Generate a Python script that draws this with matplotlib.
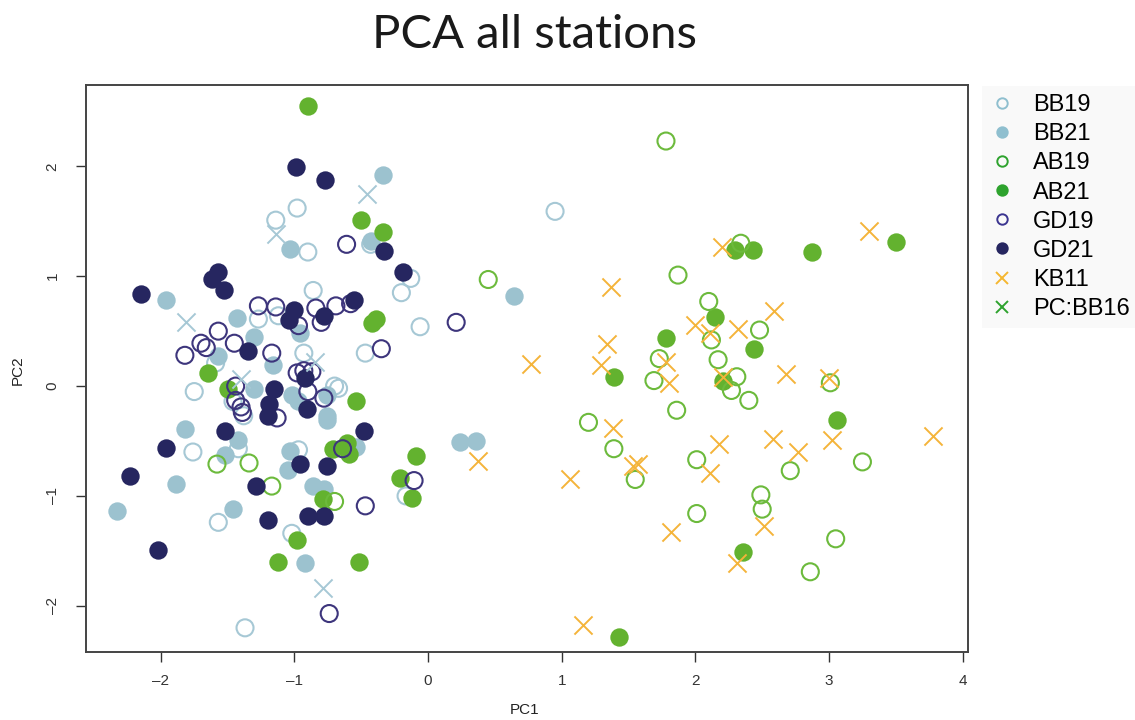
import matplotlib
matplotlib.use("Agg")
import matplotlib.pyplot as plt
from matplotlib.lines import Line2D

# PCA scores, one pair of lists per station/year
bb19_x = [0.95, -0.98, -1.14, -0.90, -0.43, -0.13, -0.20, -0.06, -0.86, -1.27, -1.12, -1.59, -0.93,
          -0.47, -1.75, -1.46, -1.38, -0.70, -0.67, -1.42, -1.76, -0.97, -0.165, -1.57, -1.02, -1.37]
bb19_y = [1.59, 1.62, 1.51, 1.22, 1.29, 0.98, 0.85, 0.54, 0.87, 0.61, 0.64, 0.21, 0.30,
          0.30, -0.05, -0.14, -0.27, 0.00, -0.02, -0.57, -0.60, -0.58, -1.00, -1.24, -1.34, -2.20]

bb21_x = [0.64, 0.24, 0.36, -0.34, -1.03, -0.43, -1.96, -1.43, -0.96, -1.30, -1.57, -1.16, -1.30, -1.02, -0.97,
          -0.76, -0.76, -0.755, -1.82, -1.42, -1.52, -1.03, -1.05, -0.54, -1.89, -0.86, -0.78, -2.33, -1.46, -0.92]
bb21_y = [0.82, -0.51, -0.50, 1.92, 1.25, 1.32, 0.78, 0.62, 0.48, 0.45, 0.27, 0.19, -0.03, -0.08, -0.14,
          -0.08, -0.27, -0.31, -0.39, -0.49, -0.63, -0.59, -0.76, -0.55, -0.89, -0.91, -0.94, -1.14, -1.12, -1.61]

ab19_x = [1.78, 0.45, 1.87, 2.34, 2.10, 2.12, 2.48, 1.73, 2.17, 1.69, 2.31, 2.27, 2.40, 3.01, 1.86, 1.20,
          1.39, 3.25, 2.01, 1.55, 2.71, 2.49, 2.50, 2.01, 3.05, 2.86, -1.58, -1.34, -1.17, -0.70]
ab19_y = [2.23, 0.97, 1.01, 1.30, 0.77, 0.42, 0.51, 0.25, 0.24, 0.05, 0.085, -0.04, -0.13, 0.03, -0.22, -0.33,
          -0.57, -0.69, -0.67, -0.85, -0.77, -0.99, -1.12, -1.16, -1.39, -1.69, -0.71, -0.70, -0.91, -1.05]

ab21_x = [3.50, 2.87, 2.30, 2.43, 2.15, 1.78, 2.44, 1.39, 2.21, 3.06, 2.36, 1.43,
          -0.90, -0.50, -0.34, -0.42, -0.39, -1.65, -1.50, -0.54, -0.71, -0.61, -0.59, -0.09,
          -0.21, -0.12, -0.79, -0.98, -1.12, -0.52]
ab21_y = [1.31, 1.22, 1.24, 1.24, 0.63, 0.44, 0.34, 0.08, 0.05, -0.31, -1.51, -2.28,
          2.55, 1.51, 1.40, 0.57, 0.61, 0.12, -0.03, -0.14, -0.57, -0.52, -0.62, -0.64,
          -0.84, -1.02, -1.03, -1.40, -1.60, -1.60]

gd19_x = [0.21, -0.61, -1.27, -1.14, -0.97, -0.84, -0.80, -0.69, -0.58, -1.57, -1.70, -1.66, -1.82, -1.45, -1.17,
          -0.35, -0.98, -0.93, -0.87, -1.44, -1.44, -1.40, -1.39, -1.13, -0.90, -0.78, -0.64, -0.105, -0.47, -0.74]
gd19_y = [0.58, 1.29, 0.73, 0.72, 0.55, 0.71, 0.58, 0.73, 0.75, 0.50, 0.39, 0.35, 0.28, 0.39, 0.30,
          0.34, 0.12, 0.14, 0.13, 0.00, -0.13, -0.19, -0.24, -0.29, -0.05, -0.11, -0.57, -0.86, -1.09, -2.07]

gd21_x = [-0.99, -0.77, -0.33, -0.19, -1.57, -1.62, -1.53, -2.15, -1.00, -1.04, -0.78, -0.555, -1.35, -0.92, -1.15,
          -1.19, -1.20, -0.91, -1.52, -1.96, -0.96, -0.755, -0.48, -2.23, -1.29, -1.20, -0.90, -0.78, -2.02]
gd21_y = [1.99, 1.88, 1.23, 1.04, 1.04, 0.97, 0.87, 0.84, 0.69, 0.60, 0.64, 0.78, 0.32, 0.07, -0.03,
          -0.16, -0.27, -0.21, -0.41, -0.56, -0.71, -0.73, -0.41, -0.82, -0.91, -1.22, -1.18, -1.18, -1.49]

kb11_x = [3.30, 2.20, 1.37, 2.59, 2.00, 2.11, 2.32, 1.34, 0.77, 1.29, 1.78, 1.80, 2.21, 2.68, 3.00,
          1.38, 0.37, 2.18, 2.58, 3.02, 3.78, 2.77, 1.53, 1.57, 1.06, 2.11, 2.51, 1.82, 2.31, 1.16]
kb11_y = [1.41, 1.27, 0.90, 0.68, 0.555, 0.48, 0.52, 0.38, 0.20, 0.195, 0.22, 0.03, 0.085, 0.11, 0.07,
          -0.38, -0.68, -0.53, -0.48, -0.49, -0.45, -0.60, -0.73, -0.71, -0.85, -0.79, -1.27, -1.33, -1.61, -2.17]

bb16_x = [-0.46, -1.14, -1.81, -0.85, -1.40, -0.79]
bb16_y = [1.75, 1.38, 0.58, 0.22, 0.06, -1.84]

labels = ["BB19", "BB21", "AB19", "AB21", "GD19", "GD21", "KB11", "PC:BB16"]

c_bb_open = "#a6c8d5"
c_bb = "#9cc2cf"
c_ab_open = "#6cba3c"
c_ab = "#63b22f"
c_gd_open = "#3d357c"
c_gd = "#262660"
c_kb = "#f4b43a"

fig = plt.figure(figsize=(11.35, 7.2), dpi=100)
ax = fig.add_axes([86 / 1135, 1 - 652 / 720, (968 - 86) / 1135, (652 - 85) / 720])

ring = dict(s=150, facecolors="none", linewidths=1.5)
dot = dict(s=175, linewidths=0)
cross = dict(s=170, marker="x", linewidths=1.4)

ax.scatter(bb19_x, bb19_y, edgecolors=c_bb_open, **ring)
ax.scatter(bb21_x, bb21_y, color=c_bb, **dot)
ax.scatter(ab21_x, ab21_y, color=c_ab, **dot)
ax.scatter(ab19_x, ab19_y, edgecolors=c_ab_open, **ring)
ax.scatter(gd19_x, gd19_y, edgecolors=c_gd_open, **ring)
ax.scatter(gd21_x, gd21_y, color=c_gd, **dot)
ax.scatter(kb11_x, kb11_y, color=c_kb, **cross)
ax.scatter(bb16_x, bb16_y, color=c_bb_open, **cross)

ax.set_xlim(-2.56, 4.04)
ax.set_ylim(-2.42, 2.74)
ax.set_xticks([-2, -1, 0, 1, 2, 3, 4])
ax.set_yticks([-2, -1, 0, 1, 2])
ax.set_xticklabels(["\u20132", "\u20131", "0", "1", "2", "3", "4"])
ax.set_yticklabels(["\u20132", "\u20131", "0", "1", "2"], rotation=90, va="center")

tick_font = ["Liberation Sans Narrow", "Liberation Sans", "DejaVu Sans"]
for t in ax.get_xticklabels() + ax.get_yticklabels():
    t.set_family(tick_font)
    t.set_fontsize(11)
ax.tick_params(direction="out", length=7, width=1, colors="#333333", pad=9)
ax.tick_params(axis="y", pad=12)
for sp in ax.spines.values():
    sp.set_color("#444444")
    sp.set_linewidth(1.4)

fig.text(525 / 1135, 1 - 710 / 720, "PC1", ha="center", va="center", fontsize=11, family=tick_font, color="#222222")
fig.text(18 / 1135, 1 - 370 / 720, "PC2", ha="center", va="center", rotation=90, fontsize=11, family=tick_font,
         color="#222222")
fig.text(534 / 1135, 1 - 35 / 720, "PCA all stations", ha="center", va="center", fontsize=34,
         family=["Lato", "DejaVu Sans"], color="#1a1a1a")

leg_colors = ["#8fbfcf", "#8fbfcf", "#2ea32e", "#2ea32e", "#3b3590", "#262660", "#f5b731", "#2ea32e"]
leg_filled = [False, True, False, True, False, True, None, None]
handles = []
for col, filled in zip(leg_colors, leg_filled):
    if filled is None:
        handles.append(Line2D([], [], marker="x", linestyle="none", color=col, markersize=9, markeredgewidth=1.4))
    else:
        handles.append(Line2D([], [], marker="o", linestyle="none", markersize=7.5, markeredgewidth=1.4,
                              markeredgecolor=col, markerfacecolor=col if filled else "none"))
leg = fig.legend(handles, labels, loc="upper left", bbox_to_anchor=(982 / 1135, 1 - 86 / 720),
                 fontsize=17, frameon=True, fancybox=False, facecolor="#f8f8f8", edgecolor="none",
                 handlelength=1.0, handletextpad=0.8, labelspacing=0.3, borderpad=0.35, borderaxespad=0)
for t in leg.get_texts():
    t.set_family(["Liberation Sans", "DejaVu Sans"])

fig.savefig("out.png", dpi=100)
